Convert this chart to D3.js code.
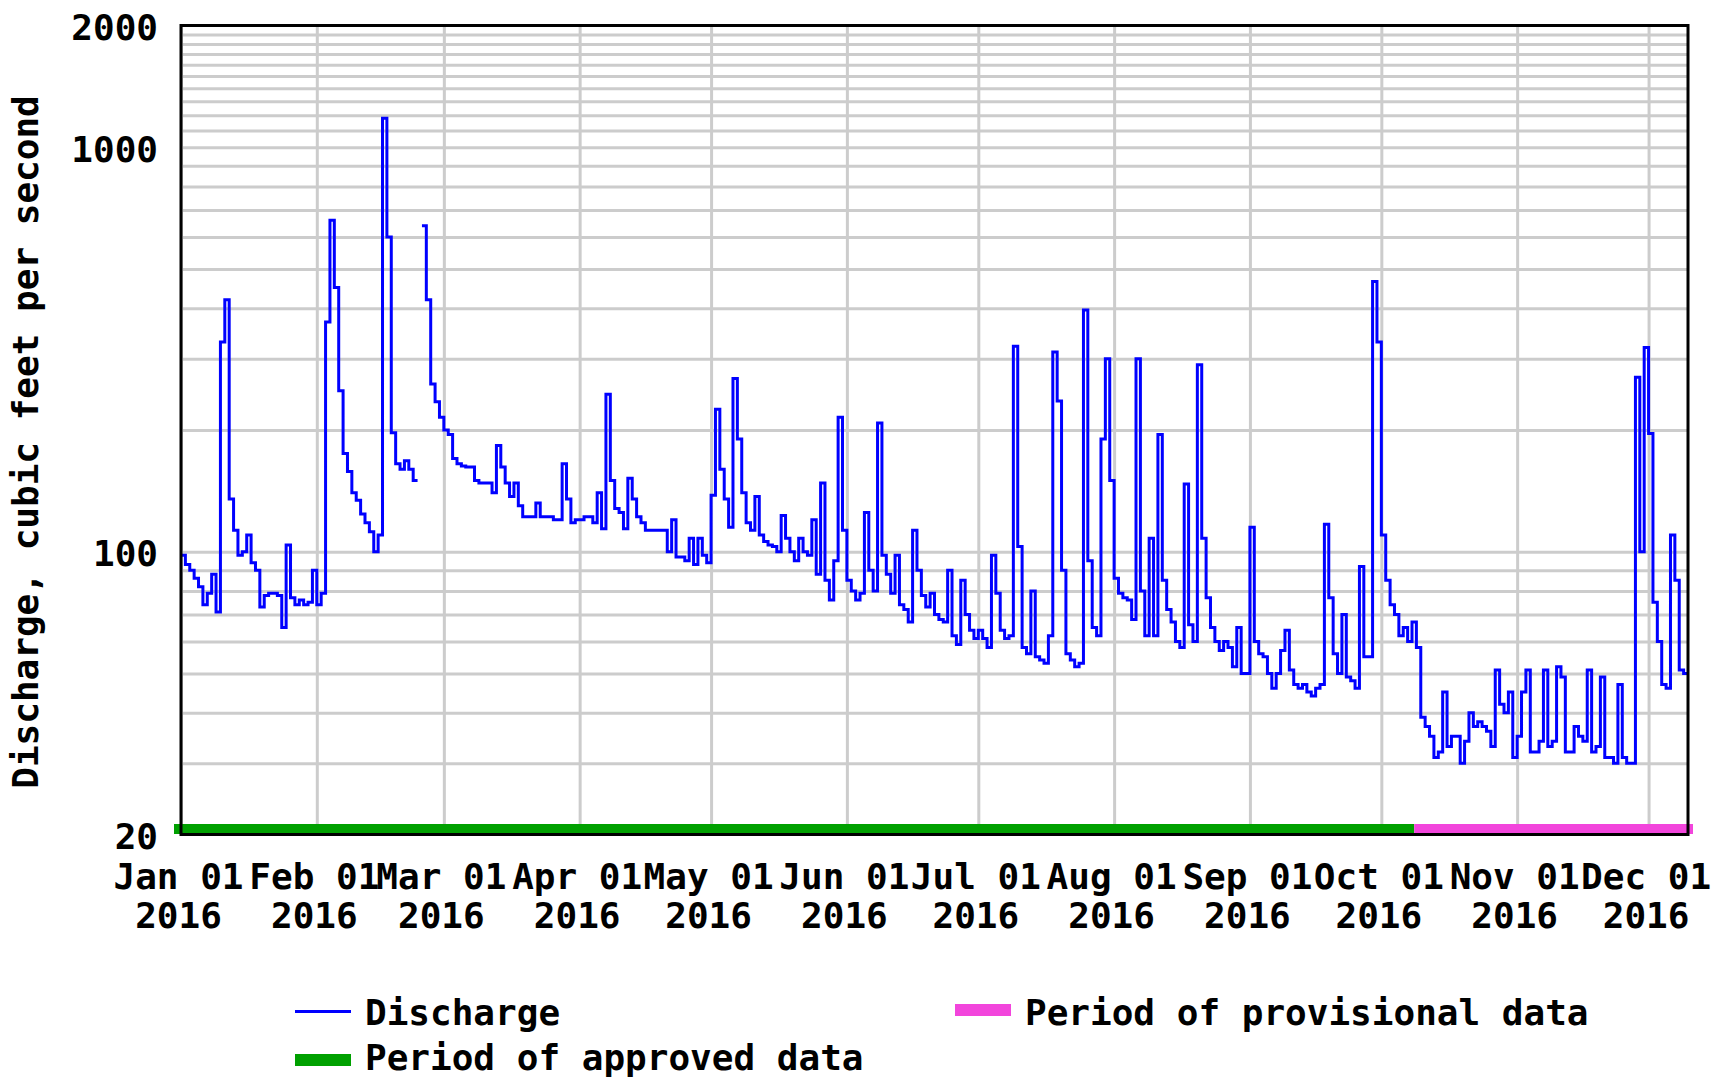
<!DOCTYPE html>
<html>
<head>
<meta charset="utf-8">
<script src="https://cdn.jsdelivr.net/npm/d3@7"></script>
<style>
  html, body { margin: 0; padding: 0; background: #fff; }
  svg { display: block; }
  text { font-family: "DejaVu Sans Mono", monospace; font-weight: bold; fill: #000; }
</style>
</head>
<body>
<svg id="chart" width="1711" height="1079"></svg>
<script>
// daily discharge, cubic feet per second, one value per day (null = no data)
const jan = [98, 93, 90, 86, 82, 74, 79, 88, 71, 330, 420, 135, 113, 98, 100, 110, 94, 90, 73, 78,
  79, 79, 78, 65, 104, 77, 74, 76, 74, 75, 90];
const feb = [74, 79, 370, 660, 450, 250, 175, 158, 140, 134, 124, 118, 112, 100, 110, 1180, 600, 197,
  165, 160, 168, 160, 150, null, 640, 420, 260, 235, 215];
const mar = [200, 195, 170, 165, 163, 162, 162, 150, 148, 148, 148, 140, 183, 162, 148, 137, 148, 130,
  122, 122, 122, 132, 122, 122, 122, 120, 120, 165, 135, 118, 120];
const apr = [120, 122, 122, 118, 140, 114, 245, 150, 128, 125, 114, 152, 135, 122, 118, 113, 113, 113,
  113, 113, 100, 120, 97, 97, 95, 108, 93, 108, 98, 94];
const may = [138, 225, 160, 135, 115, 268, 190, 140, 118, 113, 137, 110, 106, 104, 103, 100, 123, 108,
  100, 95, 108, 100, 98, 120, 88, 148, 85, 76, 95, 215, 113];
const jun = [85, 80, 76, 79, 125, 90, 80, 208, 98, 88, 79, 98, 74, 72, 67, 113, 90, 78, 73, 79,
  70, 68, 67, 90, 62, 59, 85, 70, 64, 61];
const jul = [64, 61, 58, 98, 79, 64, 61, 62, 322, 103, 58, 56, 80, 55, 54, 53, 62, 312, 236, 90,
  56, 54, 52, 53, 396, 95, 65, 62, 190, 300, 150];
const aug = [86, 79, 77, 76, 68, 300, 80, 62, 108, 62, 195, 85, 72, 67, 60, 58, 147, 66, 60, 290,
  108, 77, 65, 60, 57, 60, 58, 52, 65, 50, 50];
const sep = [115, 60, 56, 55, 50, 46, 50, 57, 64, 51, 47, 46, 47, 45, 44, 46, 47, 117, 77, 56,
  50, 70, 49, 48, 46, 92, 55, 55, 466, 330];
const oct = [110, 85, 74, 70, 62, 65, 60, 67, 58, 39, 37, 35, 31, 32, 45, 33, 35, 35, 30, 34,
  40, 37, 38, 37, 36, 33, 51, 42, 40, 45, 31];
const nov = [35, 45, 51, 32, 32, 34, 51, 33, 34, 52, 49, 32, 32, 37, 35, 34, 51, 32, 33, 49,
  31, 31, 30, 47, 31, 30, 30, 270, 100, 320];
const dec = [196, 75, 60, 47, 46, 110, 85, 51, 50];

const startDate = new Date(Date.UTC(2016, 0, 1));
const endDate = new Date(Date.UTC(2016, 11, 10));
const provisionalStart = new Date(Date.UTC(2016, 9, 8, 12));

const yLabelValues = [20, 100, 1000, 2000];
const yGridValues = [30, 40, 50, 60, 70, 80, 90, 100, 200, 300, 400, 500, 600, 700, 800, 900,
  1000, 1100, 1200, 1300, 1400, 1500, 1600, 1700, 1800, 1900];
const yTitle = 'Discharge, cubic feet per second';
const legendItems = ['Discharge', 'Period of approved data', 'Period of provisional data'];

const plotLeft = 181;
const plotRight = 1688;
const plotTop = 25.5;
const plotBottom = 834.5;
const gridColor = '#cccccc';
const approvedColor = '#00a000';
const provisionalColor = '#f245dc';
const lineColor = '#0000ff';

const svg = d3.select('#chart');
const x = d3.scaleUtc().domain([startDate, endDate]).range([plotLeft, plotRight]);
const y = d3.scaleLog().domain([20, 2000]).range([plotBottom, plotTop]);

// horizontal grid
svg.append('g')
  .attr('transform', `translate(${plotLeft},0)`)
  .call(d3.axisLeft(y).tickValues(yGridValues).tickSize(-(plotRight - plotLeft)).tickFormat(''))
  .call((g) => g.select('.domain').remove())
  .selectAll('line')
  .attr('stroke', gridColor)
  .attr('stroke-width', 3);

// vertical grid, one line per month
const months = d3.utcMonth.range(startDate, endDate);
svg.append('g')
  .attr('transform', `translate(0,${plotTop})`)
  .call(d3.axisBottom(x).tickValues(months).tickSize(plotBottom - plotTop).tickFormat(''))
  .call((g) => g.select('.domain').remove())
  .selectAll('line')
  .attr('stroke', gridColor)
  .attr('stroke-width', 3);

// approval periods bar
svg.append('rect')
  .attr('x', x(startDate) - 7).attr('y', plotBottom - 10.5)
  .attr('width', x(provisionalStart) - x(startDate) + 7).attr('height', 10)
  .attr('fill', approvedColor);
svg.append('rect')
  .attr('x', x(provisionalStart)).attr('y', plotBottom - 10.5)
  .attr('width', x(endDate) + 5 - x(provisionalStart)).attr('height', 10)
  .attr('fill', provisionalColor);

// discharge as daily steps
const daily = [].concat(jan, feb, mar, apr, may, jun, jul, aug, sep, oct, nov, dec);
const points = [];
daily.forEach((v, i) => {
  points.push({ date: d3.utcDay.offset(startDate, i), v });
  points.push({ date: d3.utcDay.offset(startDate, i + 1), v });
});
svg.append('clipPath').attr('id', 'plotClip')
  .append('rect').attr('x', plotLeft).attr('y', plotTop)
  .attr('width', plotRight - plotLeft).attr('height', plotBottom - plotTop);
svg.append('path')
  .datum(points)
  .attr('clip-path', 'url(#plotClip)')
  .attr('fill', 'none')
  .attr('stroke', lineColor)
  .attr('stroke-width', 3)
  .attr('d', d3.line().defined((p) => p.v !== null).x((p) => x(p.date)).y((p) => y(p.v)));

// frame
svg.append('rect')
  .attr('x', plotLeft).attr('y', plotTop)
  .attr('width', plotRight - plotLeft).attr('height', plotBottom - plotTop)
  .attr('fill', 'none').attr('stroke', '#000').attr('stroke-width', 3);

// y labels
const yAxis = svg.append('g')
  .attr('transform', `translate(${plotLeft},0)`)
  .call(d3.axisLeft(y).tickValues(yLabelValues).tickFormat(d3.format('d')).tickSize(0).tickPadding(23));
yAxis.select('.domain').remove();
yAxis.attr('font-family', null).attr('font-size', null);
yAxis.selectAll('text').attr('dy', 14).style('font-size', '36px');

// x labels
const xAxis = svg.append('g')
  .attr('transform', `translate(0,${plotBottom})`)
  .call(d3.axisBottom(x).tickValues(months).tickFormat(d3.utcFormat('%b %d')).tickSize(0));
xAxis.select('.domain').remove();
xAxis.attr('font-family', null).attr('font-size', null);
xAxis.selectAll('text')
  .attr('x', -3).attr('y', 54.5).attr('dy', null)
  .style('font-size', '36px')
  .append('tspan')
  .attr('x', -3).attr('dy', 39)
  .text((d) => d3.utcFormat('%Y')(d));

// y title
svg.append('text')
  .attr('transform', 'translate(38,442) rotate(-90)')
  .attr('text-anchor', 'middle')
  .style('font-size', '36px')
  .text(yTitle);

// legend
const legend = svg.append('g').style('font-size', '36px');
legend.append('line')
  .attr('x1', 295).attr('x2', 351).attr('y1', 1011.5).attr('y2', 1011.5)
  .attr('stroke', lineColor).attr('stroke-width', 3);
legend.append('text').attr('x', 365).attr('y', 1025).text(legendItems[0]);
legend.append('rect')
  .attr('x', 295).attr('y', 1054).attr('width', 56).attr('height', 12)
  .attr('fill', approvedColor);
legend.append('text').attr('x', 365).attr('y', 1070).text(legendItems[1]);
legend.append('rect')
  .attr('x', 955).attr('y', 1004).attr('width', 56).attr('height', 12)
  .attr('fill', provisionalColor);
legend.append('text').attr('x', 1025).attr('y', 1025).text(legendItems[2]);
</script>
</body>
</html>
